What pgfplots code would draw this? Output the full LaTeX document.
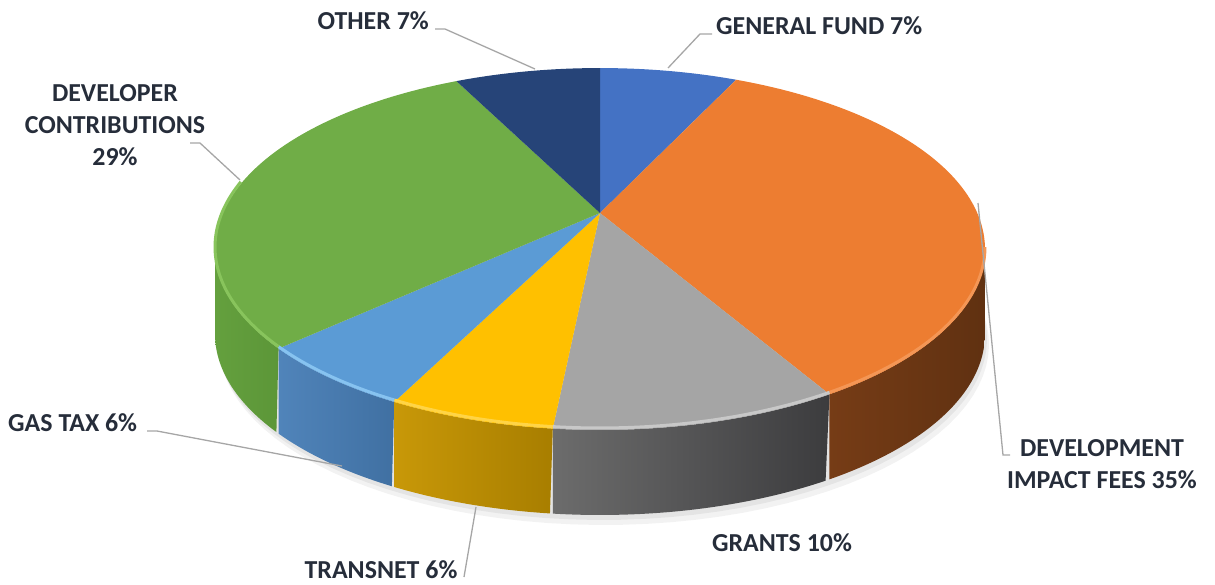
\documentclass[border=0pt]{standalone}
\usepackage{fontspec}
\setmainfont{Carlito}
\usepackage{pgfplots}
\usepackage{pgfplotstable}
\pgfplotsset{compat=1.18}

\definecolor{cGF}{HTML}{4472C4}
\definecolor{cDIF}{HTML}{ED7D31}
\definecolor{cGR}{HTML}{A5A5A5}
\definecolor{cTR}{HTML}{FFC000}
\definecolor{cGAS}{HTML}{5B9BD5}
\definecolor{cDC}{HTML}{70AD47}
\definecolor{cOT}{HTML}{264478}
\definecolor{textc}{RGB}{38,45,58}
\definecolor{lineg}{RGB}{166,166,166}

% share of each slice, in percent (clockwise from 12 o'clock)
\pgfplotstableread{
name value
GeneralFund 7.0
ImpactFees 34.6
Grants 10.0
Transnet 5.8
GasTax 5.8
DeveloperContributions 29.4
Other 7.4
}\piedata

\pgfplotstablegetelem{0}{value}\of\piedata \pgfmathsetmacro\bA{90-3.6*\pgfplotsretval}
\pgfplotstablegetelem{1}{value}\of\piedata \pgfmathsetmacro\bB{\bA-3.6*\pgfplotsretval}
\pgfplotstablegetelem{2}{value}\of\piedata \pgfmathsetmacro\bC{\bB-3.6*\pgfplotsretval}
\pgfplotstablegetelem{3}{value}\of\piedata \pgfmathsetmacro\bD{\bC-3.6*\pgfplotsretval}
\pgfplotstablegetelem{4}{value}\of\piedata \pgfmathsetmacro\bE{\bD-3.6*\pgfplotsretval}
\pgfplotstablegetelem{5}{value}\of\piedata \pgfmathsetmacro\bF{\bE-3.6*\pgfplotsretval}
\pgfplotstablegetelem{6}{value}\of\piedata \pgfmathsetmacro\bG{\bF-3.6*\pgfplotsretval}
% visible part of the rim
\pgfmathsetmacro\oHi{min(\bA,-11.48)}
\pgfmathsetmacro\gLo{max(\bF,-168.52)}

\newcommand\topslice[3]{\addplot[fill=#1, draw=none, domain=#3:#2, samples=90, variable=\t] ({px(\t)},{py(\t)}) -- (axis cs:600,213) -- cycle;}
\newcommand\sideslice[4]{\addplot[draw=none, left color=#1, right color=#2, domain=0:2, samples=121, variable=\s] ({px(st(\s,#3,#4))},{py(st(\s,#3,#4))+85*(\s>1.001)});}
\newcommand\rimline[3]{\addplot[draw=#1, line width=3bp, domain=#2:#3, samples=50, variable=\t] ({px(\t)},{py(\t)-2});}

\begin{document}
\begin{tikzpicture}
\begin{axis}[
  scale only axis, width=1215bp, height=584bp,
  xmin=0, xmax=1215, ymin=0, ymax=584, y dir=reverse,
  hide axis, clip=false,
  declare function={
    px(\t)=600+377.3*cos(\t)/(1+0.199*sin(\t));
    py(\t)=213-173.8*sin(\t)/(1+0.199*sin(\t));
    st(\s,\a,\b)=(\s<1.001)*(\a+(\b-\a)*\s)+(\s>1.001)*(\b+(\a-\b)*(\s-1));
  },
]
% fixed picture frame
\path (axis cs:0,0) rectangle (axis cs:1215,584);
% soft shadow
\addplot[fill=black, opacity=0.05, draw=none, domain=0:360, samples=120, variable=\t] ({px(\t)+4},{py(\t)+85+10});
\addplot[fill=black, opacity=0.06, draw=none, domain=0:360, samples=120, variable=\t] ({px(\t)+2},{py(\t)+85+5});
% sides
\sideslice{{rgb,255:red,118;green,60;blue,22}}{{rgb,255:red,96;green,49;blue,17}}{\bB}{\oHi}
\sideslice{{rgb,255:red,108;green,108;blue,108}}{{rgb,255:red,60;green,60;blue,62}}{\bC}{\bB}
\sideslice{{rgb,255:red,200;green,152;blue,8}}{{rgb,255:red,168;green,126;blue,0}}{\bD}{\bC}
\sideslice{{rgb,255:red,80;green,132;blue,186}}{{rgb,255:red,64;green,112;blue,162}}{\bE}{\bD}
\sideslice{{rgb,255:red,100;green,160;blue,62}}{{rgb,255:red,92;green,150;blue,56}}{\gLo}{\bE}
% top face
\topslice{cGF}{90}{\bA}
\topslice{cDIF}{\bA}{\bB}
\topslice{cGR}{\bB}{\bC}
\topslice{cTR}{\bC}{\bD}
\topslice{cGAS}{\bD}{\bE}
\topslice{cDC}{\bE}{\bF}
\topslice{cOT}{\bF}{\bG}
% bevel highlights
\rimline{{rgb,255:red,244;green,150;blue,85}}{\bB}{\oHi}
\rimline{{rgb,255:red,200;green,200;blue,200}}{\bC}{\bB}
\rimline{{rgb,255:red,255;green,212;blue,70}}{\bD}{\bC}
\rimline{{rgb,255:red,135;green,195;blue,240}}{\bE}{\bD}
\rimline{{rgb,255:red,136;green,196;blue,92}}{-190}{\bE}
% leader lines
\addplot[lineg, line width=1.3bp] coordinates {(435,29) (445,29) (535,69)};
\addplot[lineg, line width=1.3bp] coordinates {(668,68) (700,34) (712,34)};
\addplot[lineg, line width=1.3bp] coordinates {(190,143) (200,143) (240,180)};
\addplot[lineg, line width=1.3bp] coordinates {(978,203) (1003,455) (1010,455)};
\addplot[lineg, line width=1.3bp] coordinates {(147,431) (157,431) (342,466)};
\addplot[lineg, line width=1.3bp] coordinates {(464,577) (476,507)};
% labels
\tikzset{lab/.style={text=textc, font=\fontsize{26}{31}\selectfont\bfseries, inner sep=0pt}}
\node[lab, anchor=base east] at (axis cs:429,30) {OTHER 7\%};
\node[lab, anchor=base west] at (axis cs:716,35) {GENERAL FUND 7\%};
\node[lab, anchor=base] at (axis cs:115,101) {DEVELOPER};
\node[lab, anchor=base] at (axis cs:115,133) {CONTRIBUTIONS};
\node[lab, anchor=base] at (axis cs:115,165) {29\%};
\node[lab, anchor=base] at (axis cs:1102,456) {DEVELOPMENT};
\node[lab, anchor=base] at (axis cs:1102,488) {IMPACT FEES 35\%};
\node[lab, anchor=base] at (axis cs:782,551) {GRANTS 10\%};
\node[lab, anchor=base] at (axis cs:381,578) {TRANSNET 6\%};
\node[lab, anchor=base west] at (axis cs:8,431) {GAS TAX 6\%};
\end{axis}
\end{tikzpicture}
\end{document}
